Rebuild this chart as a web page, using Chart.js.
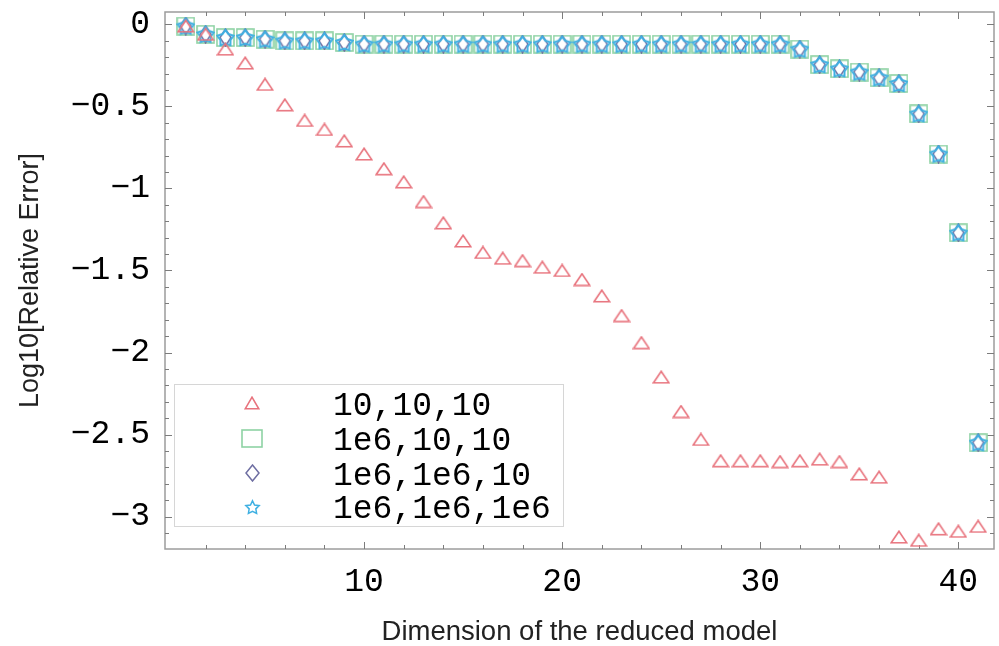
<!DOCTYPE html>
<html>
<head>
<meta charset="utf-8">
<script src="https://cdn.jsdelivr.net/npm/chart.js@4.4.1/dist/chart.umd.min.js"></script>
<style>
  html, body { margin: 0; padding: 0; background: #fff; }
  #wrap { width: 999px; height: 646px; position: relative; }
</style>
</head>
<body>
<div id="wrap"><canvas id="chart"></canvas></div>
<script>
// dimension of the reduced model (x)
const dims = [1, 2, 3, 4, 5, 6, 7, 8, 9, 10, 11, 12, 13, 14, 15, 16, 17, 18, 19, 20,
  21, 22, 23, 24, 25, 26, 27, 28, 29, 30, 31, 32, 33, 34, 35, 36, 37, 38, 39, 40, 41];

// log10 of the relative error, one list per parameter set
const err_10_10_10 = [-0.01, -0.06, -0.15, -0.235, -0.365, -0.49, -0.585, -0.64, -0.71, -0.79,
  -0.88, -0.96, -1.08, -1.21, -1.32, -1.39, -1.425, -1.44, -1.48, -1.50,
  -1.555, -1.655, -1.775, -1.94, -2.15, -2.36, -2.53, -2.66, -2.66, -2.66,
  -2.665, -2.66, -2.65, -2.665, -2.74, -2.76, -3.125, -3.145, -3.075, -3.09, -3.06];

const err_1e6_10_10 = [-0.01, -0.06, -0.08, -0.08, -0.09, -0.10, -0.10, -0.10, -0.11, -0.12,
  -0.12, -0.12, -0.12, -0.12, -0.12, -0.12, -0.12, -0.12, -0.12, -0.12,
  -0.12, -0.12, -0.12, -0.12, -0.12, -0.12, -0.12, -0.12, -0.12, -0.12,
  -0.12, -0.15, -0.245, -0.27, -0.29, -0.325, -0.36, -0.545, -0.79, -1.27, -2.55];

const err_1e6_1e6_10 = [-0.01, -0.06, -0.08, -0.08, -0.09, -0.10, -0.10, -0.10, -0.11, -0.12,
  -0.12, -0.12, -0.12, -0.12, -0.12, -0.12, -0.12, -0.12, -0.12, -0.12,
  -0.12, -0.12, -0.12, -0.12, -0.12, -0.12, -0.12, -0.12, -0.12, -0.12,
  -0.12, -0.15, -0.245, -0.27, -0.29, -0.325, -0.36, -0.545, -0.79, -1.27, -2.55];

const err_1e6_1e6_1e6 = [-0.01, -0.06, -0.08, -0.08, -0.09, -0.10, -0.10, -0.10, -0.11, -0.12,
  -0.12, -0.12, -0.12, -0.12, -0.12, -0.12, -0.12, -0.12, -0.12, -0.12,
  -0.12, -0.12, -0.12, -0.12, -0.12, -0.12, -0.12, -0.12, -0.12, -0.12,
  -0.12, -0.15, -0.245, -0.27, -0.29, -0.325, -0.36, -0.545, -0.79, -1.27, -2.55];

const seriesLabels = ['10,10,10', '1e6,10,10', '1e6,1e6,10', '1e6,1e6,1e6'];
const xTickValues = [10, 20, 30, 40];
const yTickValues = [0, -0.5, -1, -1.5, -2, -2.5, -3];
const yTickLabels = ['0', '\u22120.5', '\u22121', '\u22121.5', '\u22122', '\u22122.5', '\u22123'];

const RED = '#e8737d', GREEN = '#8ed3a4', NAVY = '#6e6ea2', CYAN = '#3fb0e2';
const MONO = "'Liberation Mono', 'DejaVu Sans Mono', monospace";
const SANS = "'Liberation Sans', Arial, sans-serif";

// small offscreen canvases used as point styles
const makeMarker = (w, h, draw) => {
    const c = document.createElement('canvas');
    c.width = w;
    c.height = h;
    draw(c.getContext('2d'), w, h);
    return c;
};
const triangle = (color, w, h) => makeMarker(w, h, (g) => {
    g.strokeStyle = color; g.lineWidth = 1.6; g.lineJoin = 'miter';
    g.beginPath();
    g.moveTo(1.2, h - 1.2); g.lineTo(w / 2, 1.2); g.lineTo(w - 1.2, h - 1.2); g.closePath();
    g.stroke();
});
const square = (color, w, h) => makeMarker(w, h, (g) => {
    g.strokeStyle = color; g.lineWidth = 1.6;
    g.strokeRect(1, 1, w - 2, h - 2);
});
const diamond = (color, w, h) => makeMarker(w, h, (g) => {
    g.strokeStyle = color; g.lineWidth = 1.5;
    g.beginPath();
    g.moveTo(w / 2, 1); g.lineTo(w - 1, h / 2); g.lineTo(w / 2, h - 1); g.lineTo(1, h / 2); g.closePath();
    g.stroke();
});
const star = (color, w, h, inner, lw) => makeMarker(w, h, (g) => {
    g.strokeStyle = color; g.lineWidth = lw;
    const cx = w / 2, cy = h / 2 + 0.8, R = Math.min(w, h) / 2 - 1;
    g.beginPath();
    for (let i = 0; i < 10; i++) {
        const a = -Math.PI / 2 + i * Math.PI / 5;
        const r = i % 2 ? R * inner : R;
        if (i === 0) g.moveTo(cx + r * Math.cos(a), cy + r * Math.sin(a));
        else g.lineTo(cx + r * Math.cos(a), cy + r * Math.sin(a));
    }
    g.closePath();
    g.stroke();
});

const plotMarkers = [triangle(RED, 18, 14), square(GREEN, 19, 19), diamond(NAVY, 13, 19), star(CYAN, 19, 19, 0.62, 2)];
const legendMarkers = [triangle(RED, 16, 14), square(GREEN, 22, 19), diamond(NAVY, 15, 18), star(CYAN, 17, 16, 0.5, 1.5)];

const toPoints = (vals) => dims.map((d, i) => ({ x: d, y: vals[i] }));

// frame with inward ticks + legend box inside the plot
const frameAndLegend = {
    id: 'frameAndLegend',
    beforeDatasetsDraw(chart) {
        const { ctx, chartArea: a, scales: { x, y } } = chart;
        ctx.save();
        ctx.strokeStyle = '#9c9c9c';
        ctx.lineWidth = 1.5;
        ctx.strokeRect(a.left, a.top, a.right - a.left, a.bottom - a.top);
        ctx.strokeStyle = '#7c7c7c';
        ctx.lineWidth = 1;
        ctx.beginPath();
        for (let v = 2; v <= 41; v += 2) {
            const len = v % 10 === 0 ? 7 : 4;
            const px = Math.round(x.getPixelForValue(v)) + 0.5;
            ctx.moveTo(px, a.bottom); ctx.lineTo(px, a.bottom - len);
            ctx.moveTo(px, a.top); ctx.lineTo(px, a.top + len);
        }
        for (let k = 0; k <= 31; k++) {
            const len = k % 5 === 0 ? 7 : 4;
            const py = Math.round(y.getPixelForValue(-k / 10)) + 0.5;
            ctx.moveTo(a.left, py); ctx.lineTo(a.left + len, py);
            ctx.moveTo(a.right, py); ctx.lineTo(a.right - len, py);
        }
        ctx.stroke();
        ctx.restore();
    },
    afterDraw(chart) {
        const { ctx } = chart;
        ctx.save();
        ctx.fillStyle = '#ffffff';
        ctx.fillRect(174, 384, 389, 142);
        ctx.strokeStyle = '#d6d6d6';
        ctx.lineWidth = 1;
        ctx.strokeRect(174.5, 384.5, 389, 142);
        const rows = [403, 438, 473, 507];
        const baselines = [415, 450, 485, 518];
        ctx.font = '33px ' + MONO;
        ctx.fillStyle = '#000';
        ctx.textBaseline = 'alphabetic';
        ctx.textAlign = 'left';
        seriesLabels.forEach((label, i) => {
            const m = legendMarkers[i];
            ctx.drawImage(m, Math.round(252 - m.width / 2), Math.round(rows[i] - m.height / 2));
            ctx.fillText(label, 333, baselines[i]);
        });
        ctx.restore();
    }
};

const noPad = (s) => { s.paddingTop = 0; s.paddingBottom = 0; s.paddingLeft = 0; s.paddingRight = 0; };

new Chart(document.getElementById('chart'), {
    type: 'scatter',
    data: {
        datasets: [
            { label: seriesLabels[0], data: toPoints(err_10_10_10), pointStyle: plotMarkers[0], order: 0 },
            { label: seriesLabels[1], data: toPoints(err_1e6_10_10), pointStyle: plotMarkers[1], order: 3 },
            { label: seriesLabels[2], data: toPoints(err_1e6_1e6_10), pointStyle: plotMarkers[2], order: 2 },
            { label: seriesLabels[3], data: toPoints(err_1e6_1e6_1e6), pointStyle: plotMarkers[3], order: 1 }
        ]
    },
    options: {
        responsive: true,
        maintainAspectRatio: false,
        animation: false,
        layout: { padding: { top: 12, right: 3, bottom: 0, left: 0 } },
        plugins: {
            legend: { display: false },
            tooltip: { enabled: false }
        },
        scales: {
            x: {
                type: 'linear',
                min: -0.05,
                max: 41.8,
                afterBuildTicks: (s) => { s.ticks = xTickValues.map(v => ({ value: v })); },
                afterFit: (s) => { s.height = 97; noPad(s); },
                grid: { display: false, drawTicks: false },
                border: { display: false },
                ticks: {
                    autoSkip: false,
                    maxRotation: 0,
                    padding: 13,
                    color: '#000',
                    font: { family: MONO, size: 33 }
                },
                title: {
                    display: true,
                    text: 'Dimension of the reduced model',
                    color: '#222',
                    font: { family: SANS, size: 27.5, lineHeight: 1 },
                    padding: { top: 0, bottom: 0 }
                }
            },
            y: {
                type: 'linear',
                min: -3.198,
                max: 0.076,
                afterBuildTicks: (s) => { s.ticks = yTickValues.map(v => ({ value: v })); },
                afterFit: (s) => { s.width = 165; noPad(s); },
                grid: { display: false, drawTicks: false },
                border: { display: false },
                ticks: {
                    padding: 15,
                    color: '#000',
                    font: { family: MONO, size: 33 },
                    callback: (v) => yTickLabels[yTickValues.indexOf(v)]
                },
                title: {
                    display: true,
                    text: 'Log10[Relative Error]',
                    color: '#222',
                    font: { family: SANS, size: 27, lineHeight: 1.2 },
                    padding: { top: 14, bottom: 0 }
                }
            }
        }
    },
    plugins: [frameAndLegend]
});
</script>
</body>
</html>
